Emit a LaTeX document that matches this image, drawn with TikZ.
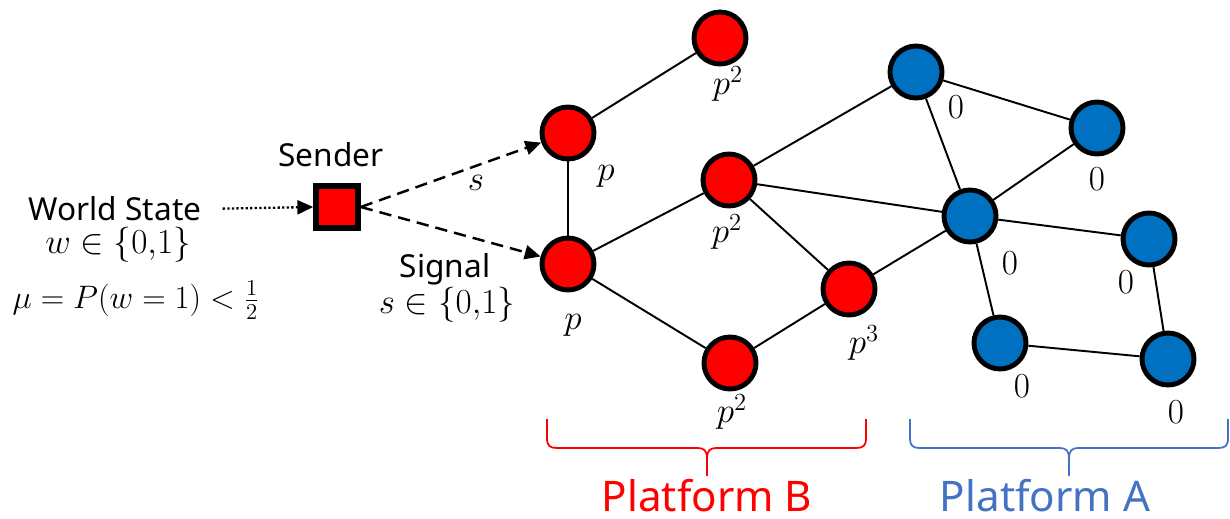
\documentclass[tikz,border=0pt]{standalone}
\usepackage{fix-cm}
\usepackage{fontspec}
\newfontfamily\labelfont{Noto Sans}
\usetikzlibrary{arrows.meta}
\definecolor{nodered}{HTML}{FF0000}
\definecolor{nodeblue}{HTML}{0070C0}
\definecolor{platblue}{HTML}{4472C4}
\begin{document}
\begin{tikzpicture}[x=0.02cm,y=-0.02cm,
  rnode/.style={circle,draw=black,line width=2.8pt,fill=nodered,minimum size=1.04cm,inner sep=0pt},
  bnode/.style={rnode,fill=nodeblue},
  edge/.style={line width=1.1pt},
  lbl/.style={inner sep=0pt,font=\fontsize{20}{24}\selectfont},
  mlbl/.style={inner sep=0pt,font=\fontsize{18.5}{22}\selectfont},
  stxt/.style={inner sep=0pt,font=\labelfont\fontsize{18}{22}\selectfont},
  sig/.style={line width=1.4pt,dash pattern=on 7pt off 4pt,-{Triangle[length=9pt,width=8pt]}},
  ptxt/.style={inner sep=0pt,anchor=base,font=\labelfont\fontsize{24}{28}\selectfont},
  bracestyle/.style={line width=1pt},
]
\useasboundingbox (0,0) rectangle (1230,518);
% red nodes
\node[rnode] (r1) at (720,38) {};
\node[rnode] (r2) at (568,133) {};
\node[rnode] (r3) at (568,264) {};
\node[rnode] (r4) at (729,180) {};
\node[rnode] (r5) at (849,289) {};
\node[rnode] (r6) at (730,363) {};
% blue nodes
\node[bnode] (b1) at (916,72) {};
\node[bnode] (b2) at (1097,128) {};
\node[bnode] (b3) at (970,216) {};
\node[bnode] (b4) at (1149,239) {};
\node[bnode] (b5) at (1000,343) {};
\node[bnode] (b6) at (1168,359) {};
% edges
\draw[edge] (r1) -- (r2);
\draw[edge] (r2) -- (r3);
\draw[edge] (r3) -- (r4);
\draw[edge] (r3) -- (r6);
\draw[edge] (r4) -- (r5);
\draw[edge] (r6) -- (r5);
\draw[edge] (r4) -- (b1);
\draw[edge] (r4) -- (b3);
\draw[edge] (r5) -- (b3);
\draw[edge] (b1) -- (b2);
\draw[edge] (b1) -- (b3);
\draw[edge] (b2) -- (b3);
\draw[edge] (b3) -- (b4);
\draw[edge] (b3) -- (b5);
\draw[edge] (b4) -- (b6);
\draw[edge] (b5) -- (b6);
% labels
\node[lbl] (l1) at (728,84) {$p^2$};
\node[lbl] (l2) at (606,176) {$p$};
\node[lbl] (l3) at (573,325) {$p$};
\node[lbl] (l4) at (727,232) {$p^2$};
\node[lbl] (l5) at (864,343) {$p^3$};
\node[lbl] (l6) at (732,412) {$p^2$};
\node[lbl] (z1) at (956,107) {$0$};
\node[lbl] (z2) at (1097,179) {$0$};
\node[lbl] (z3) at (1010,263) {$0$};
\node[lbl] (z4) at (1126,282) {$0$};
\node[lbl] (z5) at (1022,386) {$0$};
\node[lbl] (z6) at (1176,412) {$0$};
% sender
\node[draw=black,fill=nodered,line width=3.2pt,minimum size=0.84cm,inner sep=0pt] (sq) at (337,207) {};
\node[stxt] (sender) at (331,155) {Sender};
\node[stxt] (ws) at (115,209) {World State};
\node[lbl] (wset) at (118,245) {$w \in \{0{,}1\}$};
\node[mlbl] (mu) at (136,300) {$\mu = P(w = 1) < \frac{1}{2}$};
\node[stxt] (signal) at (445,269) {Signal};
\node[lbl] (sset) at (447,305) {$s \in \{0{,}1\}$};
\node[lbl] (slbl) at (476,183) {$s$};
\draw[line width=1.3pt,dash pattern=on 1.3pt off 1.3pt,-{Triangle[length=9pt,width=8pt]},shorten <=12pt] (ws.east) -- (sq.west);
\draw[sig] (sq.east) -- (r2);
\draw[sig] (sq.east) -- (r3);
% braces
\draw[bracestyle,draw=nodered] (547,419) -- (547,438) .. controls (547,446) and (550,448) .. (557,448) -- (698,448) .. controls (704,448) and (707,451) .. (707,458) -- (707,476);
\draw[bracestyle,draw=nodered] (866,419) -- (866,438) .. controls (866,446) and (863,448) .. (856,448) -- (716,448) .. controls (710,448) and (707,451) .. (707,458);
\draw[bracestyle,draw=platblue] (910,419) -- (910,438) .. controls (910,446) and (913,448) .. (920,448) -- (1060,448) .. controls (1066,448) and (1069,451) .. (1069,458) -- (1069,476);
\draw[bracestyle,draw=platblue] (1228,419) -- (1228,438) .. controls (1228,446) and (1225,448) .. (1218,448) -- (1078,448) .. controls (1072,448) and (1069,451) .. (1069,458);
\node[ptxt,text=nodered] (pb) at (707,511) {Platform B};
\node[ptxt,text=platblue] (pa) at (1045,511) {Platform A};
\end{tikzpicture}
\end{document}
